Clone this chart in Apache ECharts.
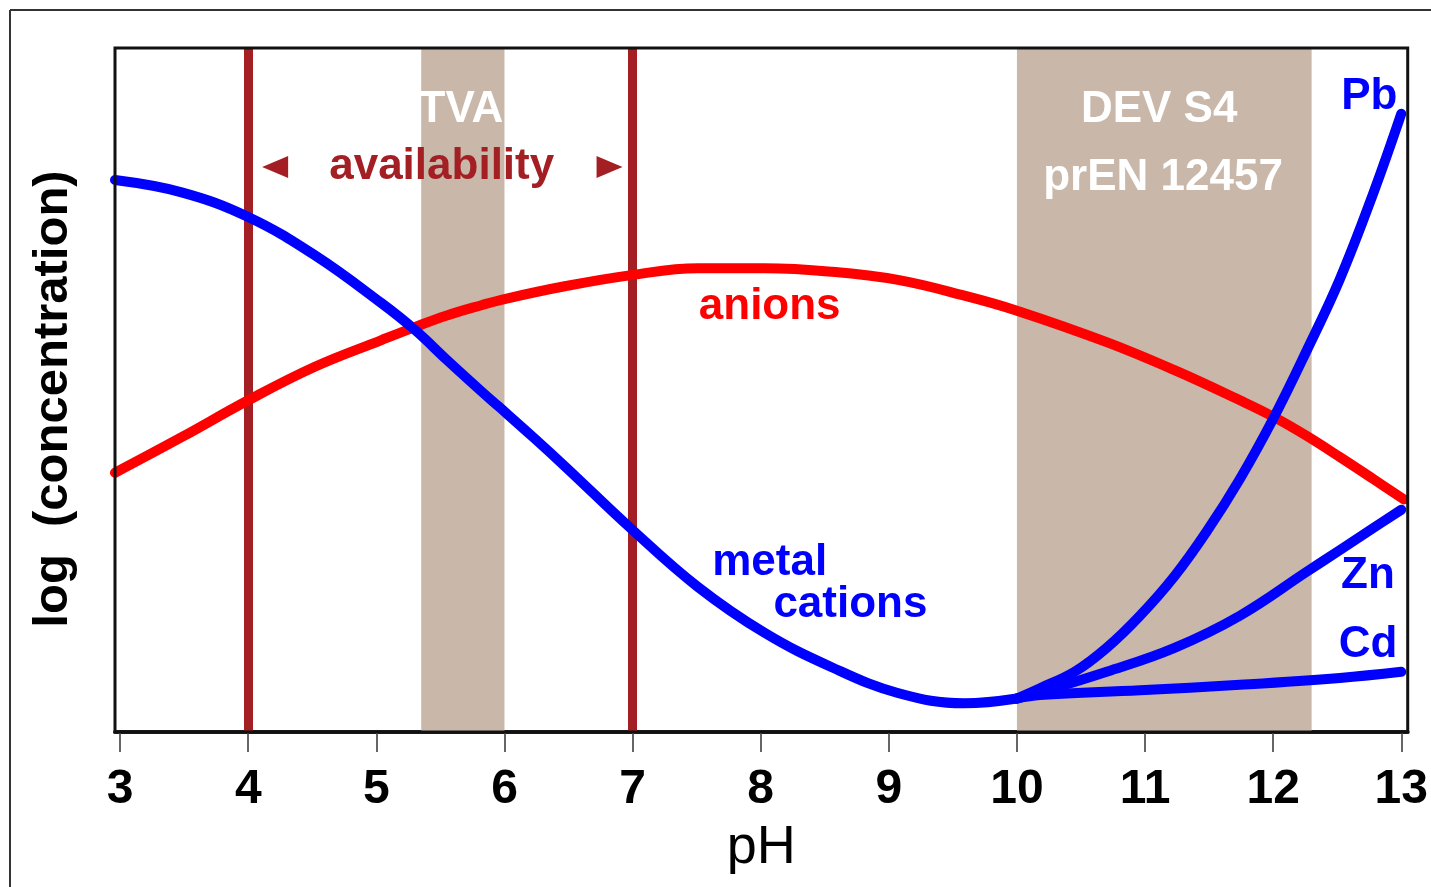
<!DOCTYPE html>
<html>
<head>
<meta charset="utf-8">
<script src="https://cdn.jsdelivr.net/npm/echarts@6/dist/echarts.min.js"></script>
<style>
html,body{margin:0;padding:0;background:#fff;}
#chart{width:1431px;height:887px;}
</style>
</head>
<body>
<div id="chart"></div>
<script>
// ---- data ----
const phTicks = [3, 4, 5, 6, 7, 8, 9, 10, 11, 12, 13];

const anionPH     = [2.96, 3.48, 4.0, 4.52, 5.04, 5.30, 5.55, 5.82, 6.0, 6.48, 6.99, 7.51, 8.03, 8.55, 9.07, 9.59, 10.0, 10.70, 11.23, 11.74, 12.0, 12.26, 12.52, 12.78, 13.02];
const anionValues = [37.9, 43.1, 48.5, 53.4, 57.3, 59.2, 60.9, 62.4, 63.3, 65.2, 66.8, 67.8, 67.8, 67.3, 66.1, 63.8, 61.6, 57.0, 52.9, 48.5, 46.1, 43.3, 40.2, 37.0, 34.0];

const cationPH     = [2.96, 3.48, 4.0, 4.52, 5.04, 5.30, 5.55, 5.82, 5.96, 6.23, 6.48, 6.99, 7.51, 8.03, 8.55, 9.07, 9.59, 10.0];
const cationValues = [80.7, 78.9, 75.3, 69.7, 62.7, 58.8, 54.4, 49.8, 47.5, 43.0, 38.7, 29.7, 21.2, 14.5, 9.5, 5.7, 4.2, 4.9];

const pbPH     = [10.0, 10.18, 10.45, 10.70, 10.96, 11.23, 11.48, 11.74, 12.0, 12.26, 12.52, 12.78, 13.0];
const pbValues = [4.9, 6.4, 8.8, 12.3, 17.0, 22.8, 29.3, 37.0, 45.8, 55.7, 66.2, 78.7, 90.4];

const znPH     = [10.0, 10.18, 10.70, 11.23, 11.74, 12.26, 12.52, 12.78, 13.0];
const znValues = [4.9, 5.8, 8.8, 12.3, 17.0, 23.4, 26.6, 29.8, 32.5];

const cdPH     = [10.0, 10.18, 10.96, 11.74, 12.52, 13.0];
const cdValues = [4.9, 5.4, 6.1, 6.9, 7.9, 8.8];

const bandRanges  = [[5.35, 6.0], [10.0, 12.3]];
const markerLines = [4, 7];

const annotationText = ['TVA', 'availability', 'DEV S4', 'prEN 12457', 'anions', 'metal', 'cations', 'Pb', 'Zn', 'Cd'];
const annotationPH   = [5.66, 5.51, 11.11, 11.14, 8.07, 8.07, 8.70, 12.75, 12.74, 12.74];
const annotationVal  = [91.0, 82.6, 90.9, 81.0, 62.1, 24.7, 18.6, 92.8, 22.8, 12.7];
const arrowPH  = [4.21, 6.82];
const arrowVal = [82.6, 82.6];
const yAxisTitle = 'log  (concentration)';

// ---- styles ----
const BLUE = '#0000ff', RED = '#ff0000', DARKRED = '#a31f24', TAN = '#c9b8aa';
const FONT = '"Liberation Sans", Arial, sans-serif';
const annotationColor = ['#ffffff', DARKRED, '#ffffff', '#ffffff', RED, BLUE, BLUE, BLUE, BLUE, BLUE];

const zip = (xs, ys) => xs.map((x, i) => [x, ys[i]]);

const chart = echarts.init(document.getElementById('chart'), null, {renderer: 'canvas'});

const curve = (name, xs, ys, color) => ({
  name, type: 'line', data: zip(xs, ys), smooth: 0.4, showSymbol: false, symbol: 'none',
  lineStyle: {color, width: 10, cap: 'round', join: 'round'}, z: 5, silent: true, clip: true
});

const option = {
  animation: false,
  backgroundColor: '#fff',
  grid: {left: 115, top: 48, width: 1296, height: 684, show: true, borderColor: '#111', borderWidth: 3, backgroundColor: 'transparent', z: 10},
  xAxis: {
    type: 'value', min: 2.96, max: 13.05,
    name: 'pH', nameLocation: 'middle', nameGap: 89,
    nameTextStyle: {fontFamily: FONT, fontSize: 54, color: '#000', fontWeight: 'normal'},
    axisLine: {show: true, onZero: false, lineStyle: {color: '#222', width: 4}},
    axisTick: {show: true, customValues: phTicks, length: 20, lineStyle: {color: '#666', width: 2}},
    axisLabel: {customValues: phTicks, margin: 34, fontFamily: FONT, fontSize: 48, fontWeight: 'bold', color: '#000'},
    splitLine: {show: false}
  },
  yAxis: {
    type: 'value', min: 0, max: 100,
    axisLine: {show: false}, axisTick: {show: false}, axisLabel: {show: false}, splitLine: {show: false}
  },
  graphic: [
    {type: 'line', shape: {x1: 10, y1: 10, x2: 1431, y2: 10}, style: {stroke: '#333', lineWidth: 2}},
    {type: 'line', shape: {x1: 10, y1: 10, x2: 10, y2: 887}, style: {stroke: '#333', lineWidth: 2}},
    {type: 'text', x: 53, y: 399, rotation: Math.PI / 2,
     style: {text: yAxisTitle, fill: '#000', font: 'bold 49px ' + FONT, textAlign: 'center', textVerticalAlign: 'middle'}}
  ],
  series: [
    {
      name: 'bands', type: 'line', data: [], z: 1, silent: true,
      markArea: {silent: true, itemStyle: {color: TAN, opacity: 1}, data: bandRanges.map(r => [{xAxis: r[0]}, {xAxis: r[1]}])},
      markLine: {silent: true, symbol: 'none', label: {show: false}, lineStyle: {color: DARKRED, width: 9, type: 'solid', opacity: 1},
                 data: markerLines.map(v => ({xAxis: v}))}
    },
    curve('anions', anionPH, anionValues, RED),
    curve('metal cations', cationPH, cationValues, BLUE),
    curve('Pb', pbPH, pbValues, BLUE),
    curve('Zn', znPH, znValues, BLUE),
    curve('Cd', cdPH, cdValues, BLUE),
    {
      name: 'arrows', type: 'scatter', z: 6, silent: true,
      data: zip(arrowPH, arrowVal).map((p, i) => ({value: p, symbolRotate: i === 0 ? 90 : -90})),
      symbol: 'triangle', symbolSize: [22, 26], itemStyle: {color: DARKRED, opacity: 1}
    },
    {
      name: 'annotations', type: 'scatter', z: 7, silent: true, symbolSize: 0, itemStyle: {opacity: 1},
      data: annotationText.map((t, i) => ({
        name: t, value: [annotationPH[i], annotationVal[i]],
        label: {show: true, position: 'inside', formatter: '{b}', color: annotationColor[i], opacity: 1,
                fontFamily: FONT, fontSize: 44, fontWeight: 'bold', align: 'center', verticalAlign: 'middle'}
      }))
    }
  ]
};
chart.setOption(option);
</script>
</body>
</html>
